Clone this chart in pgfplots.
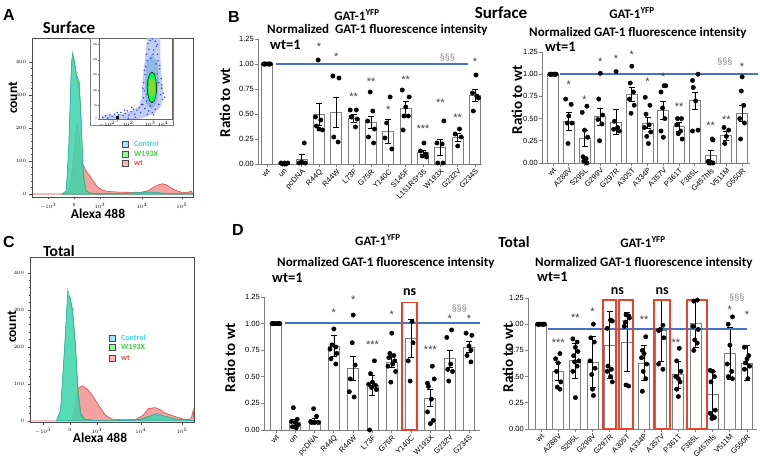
\documentclass[border=0pt]{standalone}
\usepackage{fontspec}
\setmainfont{Liberation Sans}
\newfontfamily\carl{Carlito}
\usepackage{pgfplots}
\pgfplotsset{compat=1.18}

\definecolor{barcol}{HTML}{7F7F7F}
\definecolor{linblue}{HTML}{4472C4}
\definecolor{boxred}{HTML}{E8432B}
\definecolor{starcol}{HTML}{404040}
\definecolor{ctrl}{HTML}{3CD8DC}
\definecolor{wgreen}{HTML}{3ED23E}
\definecolor{wtred}{HTML}{E04848}
\definecolor{wtfill}{HTML}{F08A8A}
\definecolor{cloud}{HTML}{2A4BD7}

\pgfplotsset{
  barpanel/.style={scale only axis, anchor=south west, clip=false,
    ymin=0, ymax=1.25, ytick={0,0.25,0.5,0.75,1,1.25},
    axis x line*=bottom, axis y line*=left,
    axis line style={-, barcol, line width=0.8pt},
    tick align=outside, major tick length=3pt,
    tick style={barcol, line width=0.8pt},
    yticklabel style={font=\fontsize{7.5}{8}\selectfont, inner sep=1pt,
      /pgf/number format/.cd, fixed, fixed zerofill, precision=2, assume math mode=true},
    xticklabel style={font=\fontsize{7.5}{8}\selectfont, rotate=45, anchor=north east, inner sep=1pt}},
  bars/.style={ybar, bar width=11pt, fill=white, draw=barcol, line width=0.8pt,
    error bars/.cd, y dir=both, y explicit,
    error bar style={black, line width=0.7pt},
    error mark options={rotate=90, black, mark size=3pt, line width=0.7pt}},
  dots/.style={only marks, mark=*, mark size=2.2pt, black},
  wtline/.style={draw=linblue, line width=2pt, no marks},
  histo/.style={scale only axis, anchor=south west,
    axis line style={black!70, line width=0.5pt},
    xtick={-1,0,1,2.62,4.15}, xticklabels={$-10^3$,0,$10^3$,$10^4$,$10^5$},
    minor xtick={-1.5,-1.4,-1.3,-1.2,-1.1,-0.9,-0.8,-0.7,-0.6,-0.5,-0.4,-0.3,-0.2,-0.1,0.1,0.2,0.3,0.4,0.5,0.6,0.7,0.8,0.9,1.49,1.77,1.97,2.13,2.26,2.37,2.46,2.55,3.08,3.35,3.54,3.69,3.81,3.91,4.0,4.08},
    ytick={0,100,200,300,400}, minor y tick num=4,
    tick label style={font=\fontsize{4.5}{5}\selectfont},
    tick align=outside, major tick length=2.5pt, minor tick length=1.3pt,
    tick style={black!70, line width=0.5pt},
    xtick pos=bottom, ytick pos=left},
}
\newcommand{\st}[3]{\node[font=\fontsize{11}{11}\selectfont, text=starcol, inner sep=0pt] at (axis cs:#1,#2) {#3};}

\begin{document}
\begin{tikzpicture}[x=1pt,y=1pt]
\useasboundingbox (0,0) rectangle (760,469);

% ---------------- panel A: surface histogram
\begin{axis}[histo, at={(32pt,272pt)}, width=161pt, height=159pt,
  xmin=-1.62, xmax=4.58, ymin=-9, ymax=473]
\addplot[fill=wtfill, fill opacity=0.8, draw=wtred, line width=0.6pt] coordinates {
 (-1.6,0) (-0.35,0) (-0.2,10) (-0.05,80) (0.05,180) (0.12,215) (0.2,180) (0.25,110)
 (0.35,88) (0.45,72) (0.6,55) (0.75,38) (0.9,22) (1.08,12) (1.3,8) (1.7,6) (2.2,5)
 (2.6,6) (2.85,10) (3.05,20) (3.25,28) (3.4,31) (3.55,28) (3.75,18) (3.95,10) (4.15,5)
 (4.4,5) (4.5,9) (4.58,0)} \closedcycle;
\addplot[fill=wgreen, fill opacity=0.65, draw=wgreen!80!black, line width=0.5pt] coordinates {
 (-0.45,0) (-0.3,10) (-0.2,140) (-0.1,390) (-0.05,420) (0,410) (0.1,360) (0.2,340)
 (0.28,220) (0.35,70) (0.45,12) (0.6,3) (1.0,1) (2.0,2) (2.6,5) (3.0,5) (3.4,2) (4.0,1) (4.58,0)} \closedcycle;
\addplot[fill=ctrl, fill opacity=0.6, draw=ctrl!80!black, line width=0.5pt] coordinates {
 (-0.45,0) (-0.3,10) (-0.2,150) (-0.1,400) (-0.05,430) (0.0,400) (0.1,350) (0.2,320)
 (0.28,200) (0.35,60) (0.45,10) (0.6,3) (1.0,1) (2.0,2) (2.6,5) (3.0,6) (3.4,3) (4.0,1) (4.58,0)} \closedcycle;
\end{axis}

% inset scatter
\fill[white] (90,344) rectangle (173,431);
\draw[black!50, line width=0.4pt] (90,344) rectangle (173,431);
\begin{axis}[at={(99pt,350pt)}, anchor=south west, scale only axis, width=73pt, height=81pt,
  xmin=0, xmax=1, ymin=0, ymax=1,
  axis line style={black!60, line width=0.4pt},
  xtick={0.11,0.25,0.4,0.7,0.88}, ytick={0,0.17,0.35,0.55,0.73,0.92},
  xticklabels={$-10^2$,0,$10^2$,$10^3$,$10^4$}, yticklabels={0,50,100,150,200,250},
  tick label style={font=\fontsize{2.5}{3}\selectfont, inner sep=0.5pt},
  tick align=outside, major tick length=1.2pt,
  tick style={black!60, line width=0.4pt}, xtick pos=bottom, ytick pos=left]
\addplot[fill=cloud!35, draw=none, fill opacity=0.8] coordinates {
 (0.04,0.0) (0.04,0.04) (0.3,0.06) (0.45,0.1) (0.55,0.16) (0.59,0.3) (0.6,0.5)
 (0.63,0.75) (0.66,1.0) (0.84,1.0) (0.84,0.75) (0.86,0.5) (0.88,0.3) (0.85,0.15)
 (0.75,0.06) (0.55,0.0) (0.04,0.0)};
\addplot[fill=cyan!60!blue!45, draw=none] coordinates {
 (0.64,0.2) (0.63,0.45) (0.65,0.7) (0.72,0.8) (0.8,0.7) (0.82,0.45) (0.8,0.22) (0.72,0.12) (0.64,0.2)};
\addplot[only marks, mark=*, mark size=0.5pt, cloud] coordinates {
 (0.05,0.02) (0.09,0.04) (0.12,0.01) (0.15,0.05) (0.18,0.03) (0.21,0.06) (0.24,0.02)
 (0.27,0.05) (0.3,0.08) (0.33,0.04) (0.36,0.07) (0.39,0.1) (0.41,0.05) (0.44,0.09)
 (0.47,0.12) (0.49,0.06) (0.52,0.11) (0.55,0.14) (0.57,0.08) (0.58,0.18) (0.35,0.11)
 (0.45,0.14) (0.25,0.08) (0.5,0.02) (0.4,0.01)
 (0.6,0.18) (0.63,0.13) (0.61,0.26) (0.65,0.22) (0.68,0.1) (0.7,0.16) (0.62,0.35)
 (0.66,0.3) (0.61,0.45) (0.63,0.55) (0.64,0.65) (0.66,0.72) (0.65,0.8) (0.68,0.86)
 (0.67,0.93) (0.7,0.97) (0.73,0.99) (0.77,0.96) (0.79,0.9) (0.75,0.85) (0.8,0.8)
 (0.81,0.72) (0.78,0.68) (0.83,0.62) (0.8,0.56) (0.85,0.5) (0.82,0.45) (0.86,0.38)
 (0.84,0.3) (0.87,0.24) (0.82,0.18) (0.77,0.12) (0.73,0.08) (0.88,0.32) (0.86,0.42)
 (0.83,0.66) (0.8,0.92) (0.71,0.75) (0.74,0.8) (0.6,0.38) (0.62,0.6) (0.9,0.27)
 (0.75,0.05) (0.66,0.06)};
\addplot[fill=green!70!cyan, draw=black, line width=0.5pt] coordinates {
 (0.79,0.39) (0.781,0.485) (0.758,0.555) (0.725,0.58) (0.693,0.555) (0.669,0.485)
 (0.66,0.39) (0.669,0.295) (0.693,0.225) (0.725,0.2) (0.758,0.225) (0.781,0.295) (0.79,0.39)};
\addplot[fill=yellow!60!green, draw=none] coordinates {
 (0.764,0.39) (0.759,0.447) (0.745,0.489) (0.725,0.504) (0.706,0.489) (0.691,0.447)
 (0.686,0.39) (0.691,0.333) (0.706,0.291) (0.725,0.276) (0.745,0.291) (0.759,0.333) (0.764,0.39)};
\addplot[only marks, mark=square*, mark size=0.9pt, black] coordinates {(0.25,0.02)};
\end{axis}

% ---------------- panel C: total histogram
\begin{axis}[histo, at={(30pt,47pt)}, width=164pt, height=165pt,
  xmin=-1.48, xmax=4.59, ymin=-3, ymax=443]
\addplot[fill=wtfill, fill opacity=0.8, draw=wtred, line width=0.6pt] coordinates {
 (-1.48,0) (-0.1,0) (0.07,2) (0.2,40) (0.3,88) (0.45,95) (0.6,88) (0.8,72) (0.95,55)
 (1.1,38) (1.3,16) (1.55,5) (2.0,3) (2.4,3) (2.7,15) (2.9,33) (3.15,36) (3.35,30)
 (3.5,22) (3.75,15) (3.96,10) (4.2,5) (4.4,3) (4.5,10) (4.56,30) (4.59,0)} \closedcycle;
\addplot[fill=wgreen, fill opacity=0.65, draw=wgreen!80!black, line width=0.5pt] coordinates {
 (-0.5,0) (-0.35,25) (-0.2,190) (-0.08,340) (0.0,335) (0.1,300) (0.2,210) (0.3,80)
 (0.4,20) (0.55,4) (1.0,1) (2.0,1) (2.6,4) (2.9,12) (3.15,17) (3.5,12) (3.9,5) (4.4,2) (4.59,0)} \closedcycle;
\addplot[fill=ctrl, fill opacity=0.6, draw=ctrl!80!black, line width=0.5pt] coordinates {
 (-0.5,0) (-0.35,30) (-0.2,200) (-0.08,355) (0.0,330) (0.1,290) (0.2,200) (0.3,70)
 (0.4,15) (0.55,3) (1.0,1) (2.0,1) (2.6,4) (2.95,12) (3.2,20) (3.5,13) (3.9,5) (4.4,2) (4.59,0)} \closedcycle;
\end{axis}

% ---------------- panel B left: surface
\begin{axis}[barpanel, at={(258pt,305pt)}, width=224pt, height=125pt,
  xmin=-0.52, xmax=12.4, xtick={0,...,12},
  xticklabels={wt,un,pcDNA,R44Q,R44W,L73F,G75R,Y140C,S145F,L151RS*35,W193X,G232V,G234S}]
\addplot[bars] coordinates {
 (0,1.00) +- (0,0) (1,0.01) +- (0,0.01) (2,0.05) +- (0,0.05) (3,0.50) +- (0,0.11)
 (4,0.52) +- (0,0.15) (5,0.46) +- (0,0.04) (6,0.42) +- (0,0.06) (7,0.33) +- (0,0.12)
 (8,0.56) +- (0,0.07) (9,0.12) +- (0,0.02) (10,0.17) +- (0,0.08) (11,0.27) +- (0,0.04)
 (12,0.69) +- (0,0.06)};
\addplot[wtline] coordinates {(0.52,1) (11.6,1)};
\addplot[dots] coordinates {
 (-0.2,1) (-0.1,1) (0,1) (0.1,1) (0.2,1) (-0.15,1) (0.15,1)
 (0.8,0.01) (0.9,0.0) (1.0,0.01) (1.1,0.0) (1.2,0.01)
 (1.85,0.01) (2.0,0.02) (2.15,0.21) (2.2,0.01)
 (2.95,1.04) (2.8,0.47) (3.1,0.44) (2.85,0.38) (3.0,0.35) (3.2,0.34)
 (3.8,0.88) (4.15,0.86) (3.85,0.27) (4.1,0.22)
 (4.8,0.54) (5.15,0.54) (4.9,0.47) (5.2,0.45) (5.1,0.37) (4.85,0.47)
 (5.95,0.72) (6.1,0.53) (5.8,0.43) (6.2,0.35) (5.85,0.27) (6.15,0.21)
 (7.1,0.67) (6.9,0.41) (6.8,0.26) (7.2,0.15)
 (7.8,0.74) (8.2,0.67) (8.0,0.57) (7.9,0.48) (8.15,0.48) (7.85,0.34)
 (9.05,0.21) (8.85,0.13) (9.15,0.10) (8.95,0.08) (9.2,0.07)
 (10.2,0.43) (9.8,0.21) (10.1,0.20) (9.85,0.01) (10.15,0.01)
 (11.1,0.35) (10.85,0.30) (11.2,0.27) (11.0,0.18)
 (12.05,0.89) (11.85,0.71) (12.1,0.68) (12.2,0.66) (11.9,0.53)};
\st{3}{1.17}{*}\st{4}{1.07}{*}\st{5}{0.67}{**}\st{6}{0.82}{**}\st{7}{0.54}{*}
\st{8}{0.84}{**}\st{9}{0.35}{***}\st{10}{0.61}{**}\st{11}{0.46}{**}\st{12}{1.02}{*}
\node[font=\fontsize{9}{9}\selectfont, text=gray, inner sep=0pt] at (axis cs:10.4,1.06) {§§§};
\end{axis}

% ---------------- panel B right: surface
\begin{axis}[barpanel, at={(542pt,306pt)}, width=208pt, height=111pt,
  xmin=-0.70, xmax=12.5, xtick={0,...,12},
  xticklabels={wt,A288V,S295L,G299V,G297R,A305T,A334P,A357V,P361T,F385L,G457hfs,V511M,G550R}]
\addplot[bars] coordinates {
 (0,1.00) +- (0,0) (1,0.47) +- (0,0.10) (2,0.28) +- (0,0.09) (3,0.52) +- (0,0.10)
 (4,0.46) +- (0,0.14) (5,0.77) +- (0,0.08) (6,0.45) +- (0,0.06) (7,0.59) +- (0,0.10)
 (8,0.41) +- (0,0.05) (9,0.70) +- (0,0.10) (10,0.08) +- (0,0.06) (11,0.31) +- (0,0.05)
 (12,0.56) +- (0,0.09)};
\addplot[wtline] coordinates {(0.44,1) (13.0,1)};
\addplot[dots] coordinates {
 (-0.2,1) (-0.1,1) (0,1) (0.1,1) (0.2,1) (-0.15,1) (0.15,1)
 (0.8,0.72) (1.15,0.66) (1.0,0.53) (0.9,0.45) (1.2,0.45) (0.95,0.22)
 (2.15,0.64) (1.85,0.57) (2.0,0.37) (2.2,0.29) (1.9,0.07) (2.1,0.05) (1.95,0.02) (2.15,0.0)
 (3.0,1.01) (2.9,0.72) (3.15,0.54) (2.85,0.49) (3.1,0.44) (2.95,0.25)
 (4.0,1.03) (3.9,0.47) (4.1,0.40) (3.85,0.38) (4.2,0.36)
 (5.0,1.09) (4.9,0.90) (5.1,0.80) (4.85,0.72) (5.15,0.65) (4.95,0.56)
 (5.85,0.74) (6.15,0.65) (5.9,0.55) (6.1,0.43) (5.8,0.40) (6.2,0.35) (5.95,0.30) (6.05,0.22)
 (6.85,0.80) (7.05,0.87) (7.15,0.87) (6.95,0.62) (7.1,0.50) (6.85,0.36) (7.0,0.29)
 (7.9,0.50) (8.15,0.50) (7.85,0.43) (8.1,0.36) (7.95,0.33) (8.2,0.27)
 (9.2,1.00) (8.85,0.93) (8.9,0.85) (9.05,0.70) (9.2,0.37) (8.85,0.36)
 (10.1,0.27) (10.15,0.26) (9.85,0.02) (10.0,0.01) (10.15,0.0) (9.9,0.0)
 (10.85,0.40) (11.15,0.37) (11.0,0.30) (10.9,0.22)
 (12.0,0.97) (11.95,0.81) (12.1,0.65) (11.85,0.50) (12.15,0.45) (11.9,0.27)};
\st{1}{0.88}{*}\st{2}{0.71}{*}\st{3}{1.14}{*}\st{4}{1.17}{*}\st{5}{1.22}{*}\st{6}{0.91}{*}
\st{7}{0.97}{*}\st{8}{0.63}{**}\st{10}{0.42}{**}\st{11}{0.49}{**}\st{12}{1.08}{*}
\node[font=\fontsize{9}{9}\selectfont, text=gray, inner sep=0pt] at (axis cs:10.9,1.14) {§§§};
\end{axis}

% ---------------- panel D left: total
\begin{axis}[barpanel, at={(264pt,39pt)}, width=216pt, height=133pt,
  xmin=-0.62, xmax=10.57, xtick={0,...,10},
  xticklabels={wt,un,pcDNA,R44Q,R44W,L73F,G75R,Y140C,W193X,G232V,G234S}]
\addplot[bars] coordinates {
 (0,1.00) +- (0,0) (1,0.07) +- (0,0.03) (2,0.09) +- (0,0.02) (3,0.79) +- (0,0.10)
 (4,0.58) +- (0,0.11) (5,0.42) +- (0,0.09) (6,0.64) +- (0,0.05) (7,0.86) +- (0,0.18)
 (8,0.30) +- (0,0.08) (9,0.67) +- (0,0.08) (10,0.78) +- (0,0.05)};
\addplot[wtline] coordinates {(0.47,1.001) (10.55,1.001)};
\addplot[dots] coordinates {
 (-0.2,1) (-0.1,1) (0,1) (0.1,1) (0.2,1) (-0.15,1) (0.15,1)
 (0.9,0.21) (1.1,0.10) (0.8,0.08) (1.0,0.07) (1.15,0.05) (0.85,0.03) (1.05,0.02)
 (1.95,0.20) (2.1,0.13) (1.8,0.08) (2.0,0.07) (2.2,0.07) (1.85,0.07)
 (3.0,0.95) (2.9,0.80) (3.1,0.78) (2.8,0.76) (3.15,0.72) (2.85,0.67) (3.1,0.62)
 (4.0,1.08) (3.95,0.82) (4.1,0.61) (3.85,0.48) (3.8,0.36) (4.05,0.31)
 (5.1,0.65) (4.9,0.53) (5.0,0.45) (4.8,0.43) (5.15,0.42) (4.95,0.40) (5.2,0.38) (4.85,0.0)
 (6.0,0.91) (5.9,0.72) (6.1,0.70) (5.85,0.68) (6.15,0.65) (6.05,0.62) (5.8,0.60) (6.2,0.55) (5.95,0.45)
 (7.05,1.02) (7.1,0.82) (6.85,0.65) (6.95,0.46)
 (8.1,0.60) (8.2,0.48) (7.85,0.44) (7.9,0.41) (8.05,0.29) (7.85,0.17) (8.15,0.09) (8.0,0.06)
 (9.1,0.94) (8.85,0.87) (9.05,0.62) (8.9,0.57) (9.15,0.55) (8.95,0.46)
 (9.85,0.91) (10.15,0.89) (10.0,0.79) (10.1,0.75) (9.9,0.70) (10.1,0.64)};
\st{3}{1.10}{*}\st{4}{1.22}{*}\st{5}{0.80}{***}\st{6}{1.08}{*}\st{8}{0.75}{***}
\st{9}{1.05}{*}\st{10}{1.05}{*}
\node[font=\fontsize{9}{9}\selectfont, text=gray, inner sep=0pt] at (axis cs:9.5,1.14) {§§§};
\draw[boxred, line width=1.5pt] (axis cs:6.53,0) rectangle (axis cs:7.31,1.20);
\node[font=\carl\bfseries\fontsize{14}{14}\selectfont, inner sep=0pt] at (axis cs:6.92,1.30) {ns};
\end{axis}

% ---------------- panel D right: total
\begin{axis}[barpanel, at={(528pt,40pt)}, width=229pt, height=131pt,
  xmin=-0.76, xmax=12.58, xtick={0,...,12},
  xticklabels={wt,A288V,S295L,G299V,G297R,A305T,A334P,A357V,P361T,F385L,G457hfs,V511M,G550R}]
\addplot[bars] coordinates {
 (0,1.00) +- (0,0) (1,0.55) +- (0,0.09) (2,0.65) +- (0,0.17) (3,0.64) +- (0,0.24)
 (4,0.80) +- (0,0.32) (5,0.83) +- (0,0.28) (6,0.63) +- (0,0.17) (7,0.94) +- (0,0.29)
 (8,0.52) +- (0,0.13) (9,1.01) +- (0,0.23) (10,0.33) +- (0,0.22) (11,0.72) +- (0,0.25)
 (12,0.63) +- (0,0.17)};
\addplot[wtline] coordinates {(0.41,0.953) (12.0,0.953)};
\addplot[dots] coordinates {
 (-0.2,1) (-0.1,1) (0,1) (0.1,1) (0.2,1) (-0.15,1) (0.15,1)
 (1.1,0.72) (0.85,0.67) (1.0,0.63) (0.9,0.55) (1.15,0.45) (0.95,0.40) (1.1,0.38)
 (1.85,0.86) (2.1,0.83) (2.0,0.78) (2.15,0.74) (1.9,0.70) (2.2,0.65) (1.95,0.64) (2.1,0.60) (1.85,0.55) (2.0,0.30)
 (3.05,1.00) (2.9,0.87) (3.1,0.83) (2.85,0.65) (3.15,0.58) (2.95,0.52) (3.0,0.38) (3.05,0.32)
 (4.05,1.04) (4.15,1.03) (3.85,0.96) (3.9,0.60) (4.1,0.57) (3.85,0.55) (4.05,0.50) (4.15,0.45)
 (4.95,1.09) (5.1,1.08) (5.15,1.06) (4.9,1.02) (4.85,0.98) (4.95,0.42) (5.1,0.41)
 (6.1,0.88) (5.9,0.75) (6.0,0.72) (5.85,0.68) (6.15,0.62) (5.95,0.55) (6.1,0.48) (5.9,0.36)
 (6.85,0.94) (6.95,0.95) (7.1,0.99) (7.15,0.87) (6.85,0.62) (7.1,0.57)
 (8.05,0.77) (7.9,0.65) (8.15,0.55) (7.85,0.50) (8.0,0.48) (8.1,0.45) (7.9,0.38) (8.0,0.31)
 (8.9,1.22) (9.1,1.23) (8.85,0.98) (9.15,0.95) (8.95,0.85) (9.1,0.82) (8.9,0.75)
 (9.85,0.56) (10.0,0.55) (10.1,0.50) (9.9,0.45) (10.15,0.18) (9.85,0.15) (10.0,0.12) (10.1,0.11) (9.95,0.10)
 (10.9,1.00) (11.15,1.07) (11.0,0.80) (10.85,0.62) (11.1,0.55) (10.9,0.50) (11.15,0.48)
 (11.85,0.78) (12.1,0.70) (12.0,0.67) (11.9,0.63) (12.15,0.60) (11.85,0.57) (12.05,0.48)};
\st{1}{0.82}{***}\st{2}{1.06}{**}\st{3}{1.12}{*}\st{6}{1.04}{**}\st{7.85}{0.82}{**}
\st{11}{1.14}{*}\st{12}{1.09}{*}
\node[font=\fontsize{9}{9}\selectfont, text=gray, inner sep=0pt] at (axis cs:11.4,1.25) {§§§};
\draw[boxred, line width=1.5pt] (axis cs:3.61,0) rectangle (axis cs:4.37,1.23);
\draw[boxred, line width=1.5pt] (axis cs:4.54,0) rectangle (axis cs:5.36,1.23);
\draw[boxred, line width=1.5pt] (axis cs:6.58,0) rectangle (axis cs:7.51,1.23);
\draw[boxred, line width=1.5pt] (axis cs:8.5,0) rectangle (axis cs:9.67,1.23);
\node[font=\carl\bfseries\fontsize{14}{14}\selectfont, inner sep=0pt] at (axis cs:4.45,1.32) {ns};
\node[font=\carl\bfseries\fontsize{14}{14}\selectfont, inner sep=0pt] at (axis cs:7.05,1.32) {ns};
\end{axis}

% ---------------- texts
\tikzset{pl/.style={font=\bfseries\fontsize{16}{16}\selectfont, inner sep=0pt},
  cb/.style={font=\carl\bfseries\fontsize{#1}{#1}\selectfont, inner sep=0pt}}
\node[pl] at (9,454) {A};
\node[pl] at (9,227) {C};
\node[pl] at (234,452) {B};
\node[pl] at (238,239) {D};
\node[cb=17] at (69,441) {Surface};
\node[cb=15.5] at (59,218) {Total};
\node[cb=13.5, rotate=90] at (13,371) {count};
\node[cb=13.5, rotate=90] at (12,142) {count};
\node[cb=13.5] at (98,255) {Alexa 488};
\node[cb=13.5] at (100,31) {Alexa 488};
% histogram legends
\foreach \yy/\cc/\lab/\tc in {325/cyan!35!white/Control/ctrl, 315/green!45!white/W193X/wgreen, 306/red!30!white/wt/wtred}{
  \draw[black!70, fill=\cc, line width=0.4pt] (122,\yy-3) rectangle (128,\yy+3);
  \node[cb=8, text=\tc, anchor=west] at (134,\yy) {\lab};}
\foreach \yy/\cc/\lab/\tc in {131/cyan!35!white/Control/ctrl, 122/green!45!white/W193X/wgreen, 111/red!30!white/wt/wtred}{
  \draw[black!70, fill=\cc, line width=0.4pt] (109,\yy-3) rectangle (115,\yy+3);
  \node[cb=8, text=\tc, anchor=west] at (121,\yy) {\lab};}
% bar panel titles
\node[cb=13] at (357,454) {GAT-1\textsuperscript{YFP}};
\node[cb=17] at (501,456) {Surface};
\node[cb=13, anchor=west] at (267,439) {Normalized\hspace{3pt} GAT-1 fluorescence intensity};
\node[cb=14.5, anchor=west] at (270,424) {wt=1};
\node[cb=15, rotate=90] at (225,366) {Ratio to wt};
\node[cb=13] at (632,456) {GAT-1\textsuperscript{YFP}};
\node[cb=13, anchor=west] at (529,436) {Normalized GAT-1 fluorescence intensity};
\node[cb=14.5, anchor=west] at (545,422) {wt=1};
\node[cb=15, rotate=90] at (517,369) {Ratio to wt};
\node[cb=13] at (378,229) {GAT-1\textsuperscript{YFP}};
\node[cb=13, anchor=west] at (277,206) {Normalized GAT-1 fluorescence intensity};
\node[cb=14.5, anchor=west] at (272,191) {wt=1};
\node[cb=15, rotate=90] at (230,111) {Ratio to wt};
\node[cb=15.5] at (514,227) {Total};
\node[cb=13] at (643,227) {GAT-1\textsuperscript{YFP}};
\node[cb=13, anchor=west] at (535,206) {Normalized GAT-1 fluorescence intensity};
\node[cb=14.5, anchor=west] at (537,192) {wt=1};
\node[cb=15, rotate=90] at (508,111) {Ratio to wt};
\end{tikzpicture}
\end{document}
